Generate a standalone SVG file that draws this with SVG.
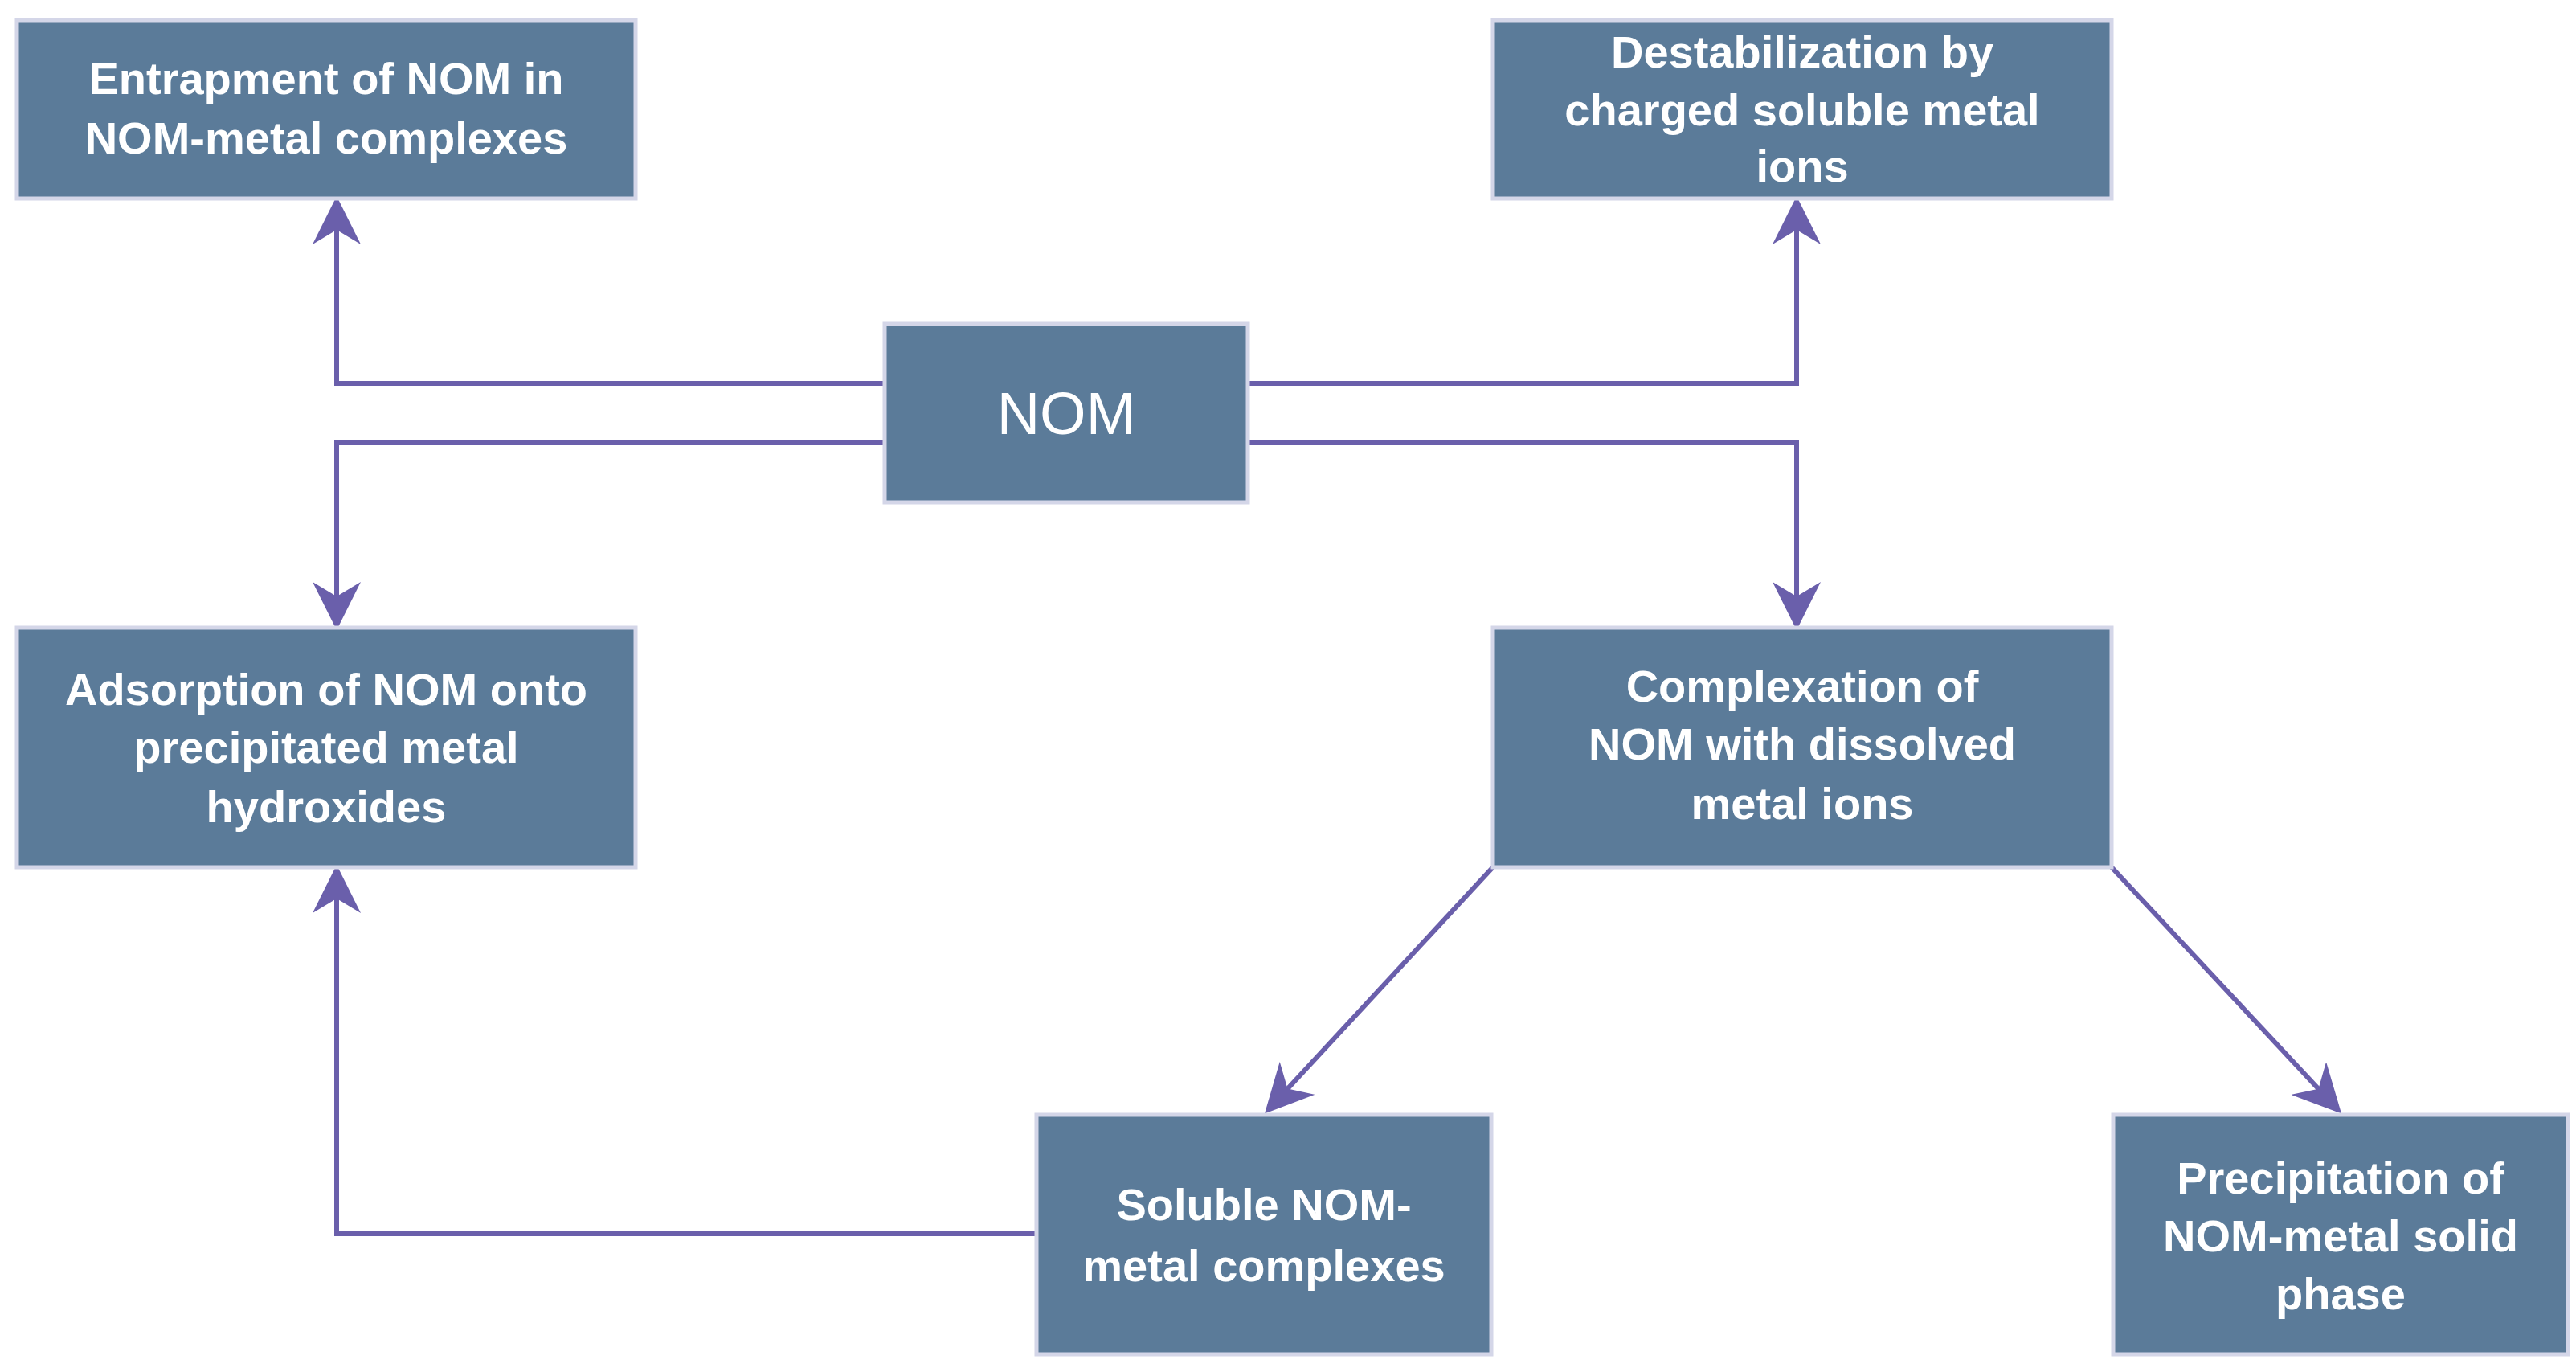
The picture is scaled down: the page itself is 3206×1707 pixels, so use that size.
<svg xmlns="http://www.w3.org/2000/svg" width="3206" height="1707" viewBox="0 0 3206 1707">
<style>
.b{fill:#5b7b99;stroke:#d4d6e8;stroke-width:5}
.t{fill:#fff;font-family:"Liberation Sans",Arial,sans-serif;font-weight:bold;font-size:56px;text-anchor:middle;dominant-baseline:central}
.c{fill:none;stroke:#6a5fab;stroke-width:6}
</style>
<defs><marker id="a" markerWidth="10" markerHeight="10" refX="9" refY="5" orient="auto" markerUnits="strokeWidth"><path d="M0,0 L10,5 L0,10 L3,5 z" fill="#6a5fab"/></marker></defs>
<rect width="3206" height="1707" fill="#fff"/>
<g id="connectors">
<path class="c" d="M1101,477 H419 V250" marker-end="url(#a)"/>
<path class="c" d="M1553,477 H2236 V250" marker-end="url(#a)"/>
<path class="c" d="M1101,551 H419 V778" marker-end="url(#a)"/>
<path class="c" d="M1553,551 H2236 V778" marker-end="url(#a)"/>
<path class="c" d="M1858,1079 L1578,1381" marker-end="url(#a)"/>
<path class="c" d="M2628,1079 L2910,1381" marker-end="url(#a)"/>
<path class="c" d="M1290,1535 H419 V1082" marker-end="url(#a)"/>
</g>
<g id="entrapment"><rect class="b" x="21" y="25" width="770" height="222"/><text class="t" x="406" y="97">Entrapment of NOM in</text><text class="t" x="406" y="171">NOM-metal complexes</text></g>
<g id="destabilization"><rect class="b" x="1858" y="25" width="770" height="222"/><text class="t" x="2243" y="64">Destabilization by</text><text class="t" x="2243" y="136">charged soluble metal</text><text class="t" x="2243" y="206">ions</text></g>
<g id="nom"><rect class="b" x="1101" y="403" width="452" height="222"/><text class="t" x="1327" y="514" style="font-weight:normal;font-size:74px">NOM</text></g>
<g id="adsorption"><rect class="b" x="21" y="781" width="770" height="298"/><text class="t" x="406" y="857">Adsorption of NOM onto</text><text class="t" x="406" y="929">precipitated metal</text><text class="t" x="406" y="1003">hydroxides</text></g>
<g id="complexation"><rect class="b" x="1858" y="781" width="770" height="298"/><text class="t" x="2243" y="853">Complexation of</text><text class="t" x="2243" y="925">NOM with dissolved</text><text class="t" x="2243" y="999">metal ions</text></g>
<g id="soluble"><rect class="b" x="1290" y="1387" width="566" height="298"/><text class="t" x="1573" y="1498">Soluble NOM-</text><text class="t" x="1573" y="1574">metal complexes</text></g>
<g id="precipitation"><rect class="b" x="2630" y="1387" width="566" height="298"/><text class="t" x="2913" y="1465">Precipitation of</text><text class="t" x="2913" y="1537">NOM-metal solid</text><text class="t" x="2913" y="1609">phase</text></g>
</svg>
